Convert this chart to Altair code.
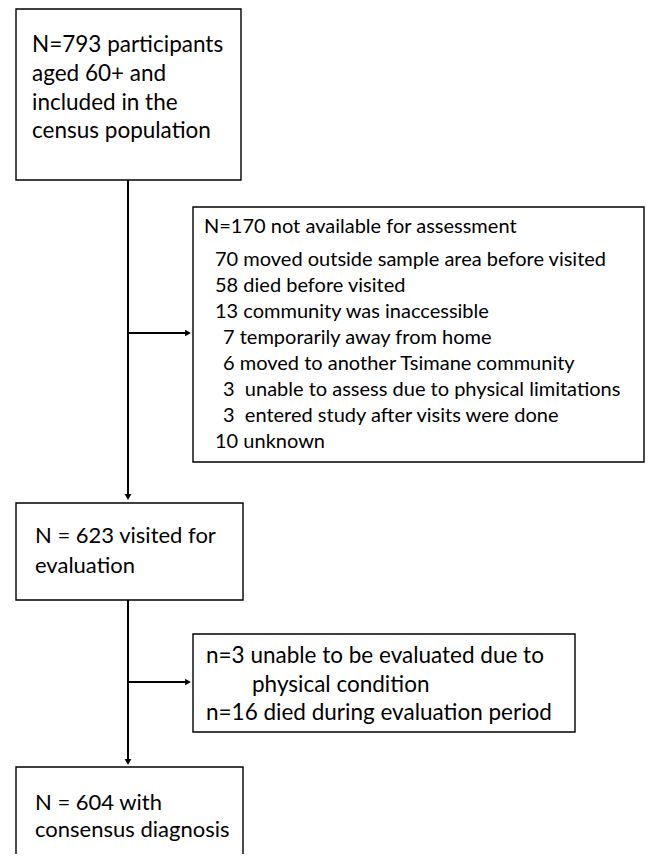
import altair as alt
import pandas as pd

# ---- content ----
box1_lines = ["N=793 participants", "aged 60+ and", "included in the", "census population"]
box2_lines = [
    "N=170 not available for assessment",
    "70 moved outside sample area before visited",
    "58 died before visited",
    "13 community was inaccessible",
    "7 temporarily away from home",
    "6 moved to another Tsimane community",
    "3\u00a0 unable to assess due to physical limitations",
    "3\u00a0 entered study after visits were done",
    "10 unknown",
]
box3_lines = ["N = 623 visited for", "evaluation"]
box4_lines = ["n=3 unable to be evaluated due to", "physical condition", "n=16 died during evaluation period"]
box5_lines = ["N = 604 with", "consensus diagnosis"]

# ---- layout (page pixel coordinates) ----
box_x1 = [16, 193, 16, 193, 16]
box_x2 = [241, 644, 243, 575, 243]
box_y1 = [9, 207, 503, 634, 767]
box_y2 = [180, 462, 600, 732, 900]

line_x = [[32] * 4,
          [204, 215, 215, 215, 223, 223, 223, 223, 215],
          [35, 35],
          [206, 252, 206],
          [35, 35]]
line_y = [[52, 81, 110, 138],
          [233, 266, 292, 318, 344, 370, 396, 422, 448],
          [543, 573],
          [663, 692, 720],
          [810, 837]]
font_sizes = [22.5, 20, 22, 22.5, 22]

all_lines = [box1_lines, box2_lines, box3_lines, box4_lines, box5_lines]

rows = []
for b, lines in enumerate(all_lines):
    for i, t in enumerate(lines):
        rows.append({"text": t, "x": line_x[b][i], "y": line_y[b][i], "fs": font_sizes[b]})
text_df = pd.DataFrame(rows)

box_df = pd.DataFrame({"x": box_x1, "x2": box_x2, "y": box_y1, "y2": box_y2})

# connectors: (x, y, x2, y2)
conn_x = [128, 128, 128, 128]
conn_y = [180, 600, 333, 682]
conn_x2 = [128, 128, 186, 186]
conn_y2 = [496, 761, 333, 682]
conn_df = pd.DataFrame({"x": conn_x, "y": conn_y, "x2": conn_x2, "y2": conn_y2})

head_x = [128, 128, 188, 188]
head_y = [497, 762, 333, 682]
head_shape = ["triangle-down", "triangle-down", "triangle-right", "triangle-right"]
head_df = pd.DataFrame({"x": head_x, "y": head_y, "shape": head_shape})

W, H = 637, 846
xs = alt.Scale(domain=[8, 8 + W], nice=False, zero=False)
ys = alt.Scale(domain=[8, 8 + H], reverse=True, nice=False, zero=False)

boxes = alt.Chart(box_df).mark_rect(fill="white", stroke="black", strokeWidth=1.4, clip=True).encode(
    x=alt.X("x:Q", scale=xs, axis=None),
    x2="x2:Q",
    y=alt.Y("y:Q", scale=ys, axis=None),
    y2="y2:Q",
)

conns = alt.Chart(conn_df).mark_rule(color="black", strokeWidth=2).encode(
    x=alt.X("x:Q", scale=xs, axis=None),
    x2="x2:Q",
    y=alt.Y("y:Q", scale=ys, axis=None),
    y2="y2:Q",
)

heads = alt.Chart(head_df).mark_point(filled=True, color="black", opacity=1, size=45).encode(
    x=alt.X("x:Q", scale=xs, axis=None),
    y=alt.Y("y:Q", scale=ys, axis=None),
    shape=alt.Shape("shape:N", scale=None, legend=None),
)

texts = alt.Chart(text_df).mark_text(align="left", baseline="alphabetic", font="Lato", color="black").encode(
    x=alt.X("x:Q", scale=xs, axis=None),
    y=alt.Y("y:Q", scale=ys, axis=None),
    text="text:N",
    size=alt.Size("fs:Q", scale=None, legend=None),
)

chart = alt.layer(boxes, conns, heads, texts).properties(
    width=W, height=H, padding=0, autosize="none", background="white"
).configure_view(stroke=None)

chart.save("out.html", embed_options={"renderer": "svg", "actions": False})
